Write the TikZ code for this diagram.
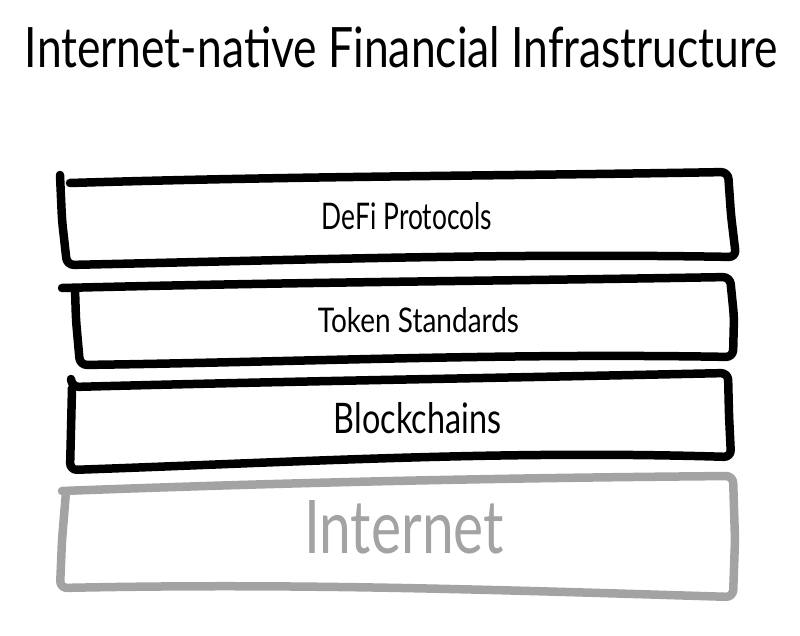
\documentclass[tikz,border=0pt]{standalone}
\usepackage{fontspec}
\setmainfont{Lato}
\definecolor{inetgray}{HTML}{A3A3A3}
\tikzset{
  sketch/.style={line width=8.5pt, line cap=round, line join=round, rounded corners=7pt},
  ink/.style={sketch, draw=black},
  faded/.style={sketch, draw=inetgray},
  lbl/.style={inner sep=0pt, anchor=base},
}
\begin{document}
\begin{tikzpicture}[x=1pt,y=-1pt]
\useasboundingbox[fill=white] (0,0) rectangle (800,636);

% title
\node[lbl] (title) at (401.5,68) {\resizebox{753pt}{41pt}{Internet-native Financial Infrastructure}};

% layer 1: DeFi Protocols
\draw[ink] (70,183) .. controls (300,176) and (500,176) .. (728,172)
  -- (731,215) -- (736,257)
  .. controls (500,253) and (300,260) .. (67,265)
  -- (62,220) -- (60,175);
\node[lbl] (defi) at (407,230) {\resizebox{170pt}{27pt}{DeFi Protocols}};

% layer 2: Token Standards
\draw[ink] (62,288) .. controls (300,282) and (500,281) .. (730,277)
  -- (734,317) -- (733,357)
  .. controls (500,353) and (300,362) .. (80,365)
  -- (76,320) -- (75,289);
\node[lbl] (token) at (418.5,332) {\resizebox{201pt}{25pt}{Token Standards}};

% layer 3: Blockchains
\draw[ink] (71,379) -- (72,387) .. controls (300,381) and (500,378) .. (728,373)
  -- (729,415) -- (731,457)
  .. controls (500,450) and (300,462) .. (70,470)
  -- (71,430) -- (72,388);
\node[lbl] (chains) at (417.5,433) {\resizebox{167pt}{31pt}{Blockchains}};

% layer 4: Internet
\draw[faded] (62,491) .. controls (300,482) and (500,478) .. (733,476)
  -- (735,540) -- (733,597)
  .. controls (500,590) and (300,583) .. (60,588)
  -- (62,540) -- (66,492);
\node[lbl, text=inetgray] (internet) at (404,553) {\resizebox{200pt}{53pt}{Internet}};
\end{tikzpicture}
\end{document}
